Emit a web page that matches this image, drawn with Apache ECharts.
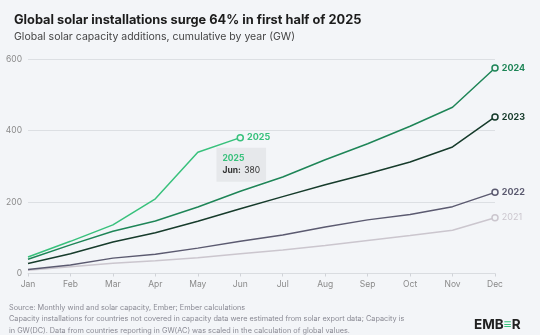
<!DOCTYPE html>
<html>
<head>
<meta charset="utf-8">
<script src="https://cdn.jsdelivr.net/npm/echarts@6/dist/echarts.min.js"></script>
<style>
  html, body { margin: 0; padding: 0; background: #f3f5f8; }
  #chart { width: 540px; height: 335px; }
</style>
</head>
<body>
<div id="chart"></div>
<script>
// Cumulative solar capacity additions by month (GW)
const months = ['Jan', 'Feb', 'Mar', 'Apr', 'May', 'Jun', 'Jul', 'Aug', 'Sep', 'Oct', 'Nov', 'Dec'];
const y2021 = [9, 19, 29, 36, 44, 55, 66, 78, 92, 106, 121, 156];
const y2022 = [11, 24, 43, 54, 71, 90, 108, 130, 150, 165, 187, 227];
const y2023 = [28, 55, 88, 114, 146, 181, 215, 248, 279, 312, 354, 438];
const y2024 = [40, 80, 118, 147, 186, 230, 270, 318, 363, 412, 465, 575];
const y2025 = [46, 90, 136, 209, 339, 380];
const yTicks = [0, 200, 400, 600];

const colors = {
  '2021': '#cbc6ce',
  '2022': '#5b5a70',
  '2023': '#163b2b',
  '2024': '#1e8557',
  '2025': '#38c17c'
};

function lineSeries(name, data, labelStyle) {
  const last = data.length - 1;
  return {
    name: name,
    type: 'line',
    data: data.map((v, i) => i === last ? {
      value: v,
      symbol: 'circle',
      symbolSize: 6,
      itemStyle: { color: '#f3f5f8', borderColor: colors[name], borderWidth: 1.5 },
      label: Object.assign({
        show: true,
        position: 'right',
        distance: 3,
        formatter: name,
        fontFamily: 'Inter',
        fontSize: 9,
        color: colors[name]
      }, labelStyle || {})
    } : v),
    symbol: 'none',
    lineStyle: { color: colors[name], width: 1.5 },
    itemStyle: { color: colors[name] },
    silent: true,
    z: 2
  };
}

const series = [
  lineSeries('2021', y2021, { fontWeight: 'normal' }),
  lineSeries('2022', y2022, { fontWeight: 'bold' }),
  lineSeries('2023', y2023, { fontWeight: 'bold' }),
  lineSeries('2024', y2024, { fontWeight: 'bold' }),
  lineSeries('2025', y2025, { fontWeight: 'bold' })
];

// Callout box for the latest 2025 value
series[4].markPoint = {
  symbol: 'circle',
  symbolSize: 0,
  silent: true,
  data: [{
    coord: ['Jun', y2025[5]],
    label: {
      show: true,
      position: 'inside',
      offset: [1, 27],
      align: 'center',
      verticalAlign: 'middle',
      backgroundColor: '#e6e8eb',
      padding: [5, 6, 5, 6],
      lineHeight: 12,
      formatter: '{y|2025}\n{m|Jun:} {v|' + y2025[5] + '}',
      rich: {
        y: { fontFamily: 'Inter', fontSize: 8.5, fontWeight: 'bold', color: '#38c17c', align: 'left' },
        m: { fontFamily: 'Inter', fontSize: 8.5, fontWeight: 'bold', color: '#333' },
        v: { fontFamily: 'Inter', fontSize: 8.5, color: '#333' }
      }
    }
  }]
};

const chart = echarts.init(document.getElementById('chart'), null, { renderer: 'canvas' });
chart.setOption({
  backgroundColor: '#f3f5f8',
  animation: false,
  title: [
    {
      text: 'Global solar installations surge 64% in first half of 2025',
      left: 9, top: 9,
      textStyle: { fontFamily: 'Inter', fontSize: 12.8, fontWeight: 'bold', color: '#1c1c1c' }
    },
    {
      text: 'Global solar capacity additions, cumulative by year (GW)',
      left: 9, top: 26,
      textStyle: { fontFamily: 'Inter', fontSize: 10.5, fontWeight: 'normal', color: '#444' }
    }
  ],
  grid: { left: 28, right: 45, top: 59, bottom: 61.5, containLabel: false },
  xAxis: {
    type: 'category',
    data: months,
    boundaryGap: false,
    axisLine: { lineStyle: { color: '#d9dce0' } },
    axisTick: { show: true, alignWithLabel: true, length: 3, lineStyle: { color: '#d0d3d8' } },
    axisLabel: { fontFamily: 'Inter', fontSize: 8.5, color: '#8a8a8a', margin: 6 },
    splitLine: { show: false }
  },
  yAxis: {
    type: 'value',
    min: 0, max: 600, interval: 200,
    axisLine: { show: false },
    axisTick: { show: false },
    axisLabel: {
      fontFamily: 'Inter', fontSize: 8.5, color: '#8a8a8a', margin: 6,
      formatter: v => yTicks.includes(v) ? String(v) : ''
    },
    splitLine: { lineStyle: { color: '#dcdfe3', width: 1 } }
  },
  graphic: [
    {
      type: 'text', left: 9, top: 302,
      style: {
        text: 'Source: Monthly wind and solar capacity, Ember; Ember calculations\n' +
              'Capacity installations for countries not covered in capacity data were estimated from solar export data; Capacity is\n' +
              'in GW(DC). Data from countries reporting in GW(AC) was scaled in the calculation of global values.',
        fontFamily: 'Inter', fontSize: 7.3, lineHeight: 11.5, fill: '#8a8a94'
      }
    },
    {
      type: 'text', left: 474, top: 318,
      style: {
        text: 'EMB{e|\u2261}R',
        rich: { e: { fontFamily: 'Inter', fontSize: 14, fontWeight: 'bold', fill: '#38c17c' } },
        fontFamily: 'Inter', fontSize: 13.5, fontWeight: 'bold', fill: '#222', letterSpacing: 0.6
      }
    }
  ],
  series: series
});
</script>
</body>
</html>
